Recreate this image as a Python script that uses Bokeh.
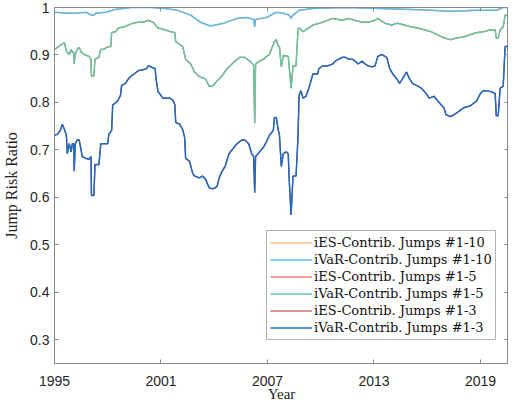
from bokeh.plotting import figure
from bokeh.models import Range1d, LinearAxis, FixedTicker, Legend, LegendItem
from bokeh.embed import file_html
from bokeh.resources import INLINE

# ---------------- data ----------------
years_10 = [1995.00, 1995.67, 1996.22, 1996.78, 1997.08, 1997.22, 1997.33, 1997.89, 1998.44,
            1999.33, 2000.44, 2001.22, 2001.94, 2002.67, 2003.22, 2003.78, 2004.56, 2005.28,
            2005.83, 2006.22, 2006.28, 2006.33, 2006.94, 2007.50, 2007.89, 2008.22, 2008.33,
            2008.44, 2008.78, 2009.56, 2011.39, 2013.22, 2015.11, 2016.22, 2017.33, 2018.78,
            2019.89, 2020.28, 2020.61]
ivar_10 = [0.990, 0.988, 0.988, 0.990, 0.984, 0.984, 0.988, 0.990, 0.996,
           1.000, 1.000, 0.998, 0.994, 0.984, 0.969, 0.961, 0.967, 0.977,
           0.979, 0.975, 0.959, 0.975, 0.979, 0.990, 0.988, 0.984, 0.977,
           0.984, 0.994, 0.998, 1.000, 0.998, 0.996, 0.994, 0.992, 0.994,
           0.994, 1.000, 1.000]

years_5 = [1995.00, 1995.17, 1995.39, 1995.56, 1995.67, 1995.83, 1995.94, 1996.00, 1996.08,
           1996.11, 1996.17, 1996.28, 1996.39, 1996.50, 1996.67, 1996.94, 1997.06, 1997.08,
           1997.22, 1997.28, 1997.50, 1997.61, 1997.78, 1997.94, 1998.17, 1998.22, 1998.44,
           1998.61, 1998.89, 1999.17, 1999.44, 1999.72, 2000.00, 2000.28, 2000.56, 2000.83,
           2001.22, 2001.56, 2001.78, 2001.83, 2002.22, 2002.39, 2002.67, 2002.89, 2003.17,
           2003.50, 2003.72, 2003.89, 2004.28, 2004.44, 2004.72, 2005.11, 2005.44, 2005.72,
           2006.00, 2006.22, 2006.28, 2006.33, 2006.56, 2006.78, 2006.94, 2007.11, 2007.22,
           2007.39, 2007.50, 2007.61, 2007.67, 2007.78, 2007.89, 2008.17, 2008.22, 2008.33,
           2008.44, 2008.61, 2008.72, 2008.78, 2009.00, 2009.17, 2009.56, 2010.11, 2010.67,
           2011.22, 2011.56, 2011.94, 2012.33, 2012.67, 2013.06, 2013.22, 2013.61, 2014.00,
           2014.33, 2014.72, 2015.11, 2015.44, 2015.83, 2016.22, 2016.56, 2016.94, 2017.33,
           2017.67, 2018.06, 2018.44, 2018.78, 2019.17, 2019.56, 2019.83, 2019.89, 2020.00,
           2020.11, 2020.28, 2020.39, 2020.61]
ivar_5 = [0.912, 0.916, 0.922, 0.926, 0.908, 0.901, 0.912, 0.906, 0.906,
          0.881, 0.901, 0.912, 0.916, 0.906, 0.901, 0.897, 0.891, 0.856,
          0.856, 0.891, 0.895, 0.912, 0.912, 0.916, 0.918, 0.947, 0.949,
          0.957, 0.959, 0.963, 0.967, 0.969, 0.969, 0.973, 0.969, 0.957,
          0.953, 0.949, 0.947, 0.928, 0.918, 0.891, 0.881, 0.864, 0.854,
          0.850, 0.834, 0.834, 0.850, 0.856, 0.871, 0.885, 0.895, 0.895,
          0.887, 0.879, 0.756, 0.881, 0.887, 0.891, 0.897, 0.901, 0.912,
          0.928, 0.932, 0.918, 0.918, 0.875, 0.899, 0.897, 0.877, 0.830,
          0.877, 0.877, 0.953, 0.957, 0.949, 0.953, 0.963, 0.969, 0.977,
          0.973, 0.977, 0.973, 0.969, 0.969, 0.973, 0.977, 0.967, 0.963,
          0.967, 0.963, 0.959, 0.957, 0.953, 0.949, 0.943, 0.936, 0.932,
          0.936, 0.938, 0.943, 0.947, 0.949, 0.953, 0.953, 0.936, 0.936,
          0.953, 0.959, 0.984, 0.984]

years_3 = [1995.00, 1995.17, 1995.33, 1995.44, 1995.56, 1995.67, 1995.72, 1995.83, 1995.94,
           1996.00, 1996.08, 1996.11, 1996.17, 1996.28, 1996.39, 1996.50, 1996.56, 1996.78,
           1996.94, 1997.06, 1997.08, 1997.22, 1997.28, 1997.50, 1997.61, 1997.78, 1998.00,
           1998.06, 1998.22, 1998.28, 1998.44, 1998.56, 1998.72, 1998.78, 1999.00, 1999.17,
           1999.33, 1999.56, 1999.72, 2000.00, 2000.17, 2000.28, 2000.44, 2000.67, 2000.72,
           2000.83, 2001.00, 2001.11, 2001.28, 2001.50, 2001.67, 2001.78, 2001.83, 2002.06,
           2002.22, 2002.33, 2002.39, 2002.61, 2002.78, 2002.89, 2003.17, 2003.33, 2003.50,
           2003.72, 2003.89, 2004.06, 2004.17, 2004.28, 2004.44, 2004.61, 2004.83, 2005.00,
           2005.28, 2005.56, 2005.72, 2005.94, 2006.11, 2006.22, 2006.28, 2006.33, 2006.56,
           2006.78, 2006.94, 2007.11, 2007.33, 2007.39, 2007.50, 2007.61, 2007.67, 2007.78,
           2007.89, 2008.06, 2008.17, 2008.22, 2008.33, 2008.44, 2008.61, 2008.72, 2008.78,
           2008.89, 2009.00, 2009.17, 2009.33, 2009.44, 2009.56, 2009.83, 2009.89, 2010.11,
           2010.39, 2010.67, 2010.83, 2011.00, 2011.22, 2011.39, 2011.56, 2011.78, 2011.94,
           2012.11, 2012.33, 2012.50, 2012.67, 2012.89, 2013.06, 2013.22, 2013.44, 2013.72,
           2013.89, 2014.06, 2014.28, 2014.44, 2014.61, 2014.83, 2015.00, 2015.17, 2015.39,
           2015.67, 2015.94, 2016.11, 2016.39, 2016.56, 2016.78, 2016.94, 2017.06, 2017.33,
           2017.67, 2018.06, 2018.44, 2018.78, 2019.00, 2019.17, 2019.56, 2019.83, 2019.89,
           2020.00, 2020.11, 2020.28, 2020.39, 2020.61]
ivar_3 = [0.731, 0.733, 0.741, 0.754, 0.743, 0.731, 0.692, 0.713, 0.696,
          0.713, 0.713, 0.655, 0.713, 0.721, 0.721, 0.700, 0.686, 0.682,
          0.680, 0.686, 0.604, 0.604, 0.669, 0.669, 0.713, 0.713, 0.713,
          0.733, 0.741, 0.795, 0.799, 0.803, 0.815, 0.836, 0.840, 0.850,
          0.856, 0.862, 0.867, 0.869, 0.871, 0.877, 0.875, 0.871, 0.850,
          0.823, 0.815, 0.809, 0.809, 0.809, 0.805, 0.795, 0.758, 0.754,
          0.743, 0.727, 0.682, 0.676, 0.651, 0.645, 0.641, 0.645, 0.639,
          0.620, 0.618, 0.620, 0.624, 0.641, 0.655, 0.665, 0.692, 0.700,
          0.713, 0.721, 0.721, 0.713, 0.692, 0.686, 0.610, 0.686, 0.696,
          0.706, 0.717, 0.731, 0.741, 0.768, 0.768, 0.741, 0.733, 0.665,
          0.692, 0.696, 0.692, 0.641, 0.563, 0.645, 0.645, 0.727, 0.815,
          0.825, 0.809, 0.813, 0.830, 0.844, 0.860, 0.860, 0.871, 0.877,
          0.877, 0.881, 0.887, 0.891, 0.895, 0.895, 0.891, 0.891, 0.887,
          0.881, 0.887, 0.881, 0.877, 0.875, 0.877, 0.897, 0.901, 0.895,
          0.871, 0.860, 0.850, 0.840, 0.850, 0.864, 0.850, 0.840, 0.836,
          0.830, 0.819, 0.809, 0.813, 0.805, 0.795, 0.789, 0.774, 0.770,
          0.778, 0.789, 0.793, 0.803, 0.819, 0.825, 0.823, 0.819, 0.772,
          0.772, 0.830, 0.834, 0.918, 0.918]

# iES contributions lie exactly under the iVaR curves in the picture
ies_10 = list(ivar_10)
ies_5 = list(ivar_5)
ies_3 = list(ivar_3)

series_labels = ["iES-Contrib. Jumps #1-10", "iVaR-Contrib. Jumps #1-10",
                 "iES-Contrib. Jumps #1-5", "iVaR-Contrib. Jumps #1-5",
                 "iES-Contrib. Jumps #1-3", "iVaR-Contrib. Jumps #1-3"]
x_ticks = [1995, 2001, 2007, 2013, 2019]
y_ticks = [0.3, 0.4, 0.5, 0.6, 0.7, 0.8, 0.9, 1.0]
x_label = "Year"
y_label = "Jump Risk Ratio"

# ---------------- styling ----------------
colors = ["#F5A54A", "#5CB8E6", "#E8433A", "#66C8A0", "#B03428", "#1F6CC4"]
widths = [1.2, 1.5, 1.2, 1.5, 1.2, 1.5]
AX = "#8a8a8a"
TICKFONT = "Liberation Sans"
SERIF = "Liberation Serif"
LEGFONT = "DejaVu Serif"

p = figure(width=508, height=404, output_backend="svg", toolbar_location=None,
           x_range=Range1d(1995, 2020.58), y_range=Range1d(0.25, 1.0),
           min_border_left=47, min_border_right=0, min_border_top=7, min_border_bottom=40)
p.xgrid.visible = False
p.ygrid.visible = False
p.outline_line_color = AX
p.background_fill_color = "white"

series = [(years_10, ies_10), (years_10, ivar_10), (years_5, ies_5),
          (years_5, ivar_5), (years_3, ies_3), (years_3, ivar_3)]
renderers = []
for (xs, ys), c, w in zip(series, colors, widths):
    renderers.append(p.line(xs, ys, line_color=c, line_width=w))

for ax in (p.xaxis[0], p.yaxis[0]):
    ax.axis_line_color = AX
    ax.major_tick_line_color = AX
    ax.major_tick_in = 4
    ax.major_tick_out = 0
    ax.minor_tick_line_color = None
    ax.major_label_text_font = TICKFONT
    ax.major_label_text_font_size = "14px"
    ax.major_label_text_color = "#262626"
    ax.axis_label_text_font = SERIF
    ax.axis_label_text_font_style = "normal"
    ax.axis_label_text_color = "#262626"

p.xaxis[0].ticker = FixedTicker(ticks=x_ticks)
p.yaxis[0].ticker = FixedTicker(ticks=y_ticks)
p.yaxis[0].major_label_overrides = {1: "1"}
p.xaxis[0].axis_label = x_label
p.yaxis[0].axis_label = y_label
p.xaxis[0].axis_label_text_font_size = "15px"
p.yaxis[0].axis_label_text_font_size = "16px"
p.xaxis[0].major_label_standoff = 12
p.xaxis[0].axis_label_standoff = -3
p.yaxis[0].major_label_standoff = 5
p.yaxis[0].axis_label_standoff = 7

top = LinearAxis(ticker=FixedTicker(ticks=x_ticks), major_label_text_color=None,
                 major_label_text_font_size="1px",
                 major_tick_in=4, major_tick_out=0, minor_tick_line_color=None,
                 axis_line_color=AX, major_tick_line_color=AX, major_label_standoff=0)
right = LinearAxis(ticker=FixedTicker(ticks=y_ticks), major_label_text_color=None,
                   major_label_text_font_size="1px",
                   major_tick_in=4, major_tick_out=0, minor_tick_line_color=None,
                   axis_line_color=AX, major_tick_line_color=AX, major_label_standoff=0)
p.add_layout(top, "above")
p.add_layout(right, "right")

legend = Legend(items=[LegendItem(label=l, renderers=[r]) for l, r in zip(series_labels, renderers)],
                location=(212, 23), label_text_font=LEGFONT, label_text_font_size="13px",
                label_text_color="#111111", glyph_width=42, glyph_height=17, label_height=17,
                spacing=0, padding=3, margin=0, label_standoff=2,
                border_line_color="#666666", border_line_width=1,
                background_fill_color="white", background_fill_alpha=1)
p.add_layout(legend)

open("out.html", "w").write(file_html(p, INLINE))
